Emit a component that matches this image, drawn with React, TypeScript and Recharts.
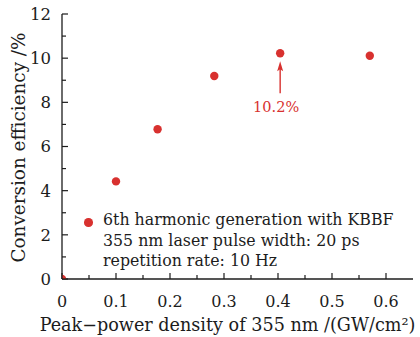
import { ScatterChart, Scatter, XAxis, YAxis, Legend, Label } from "recharts";

// measured points (peak-power density GW/cm^2 -> conversion efficiency %)
const powerDensity = [0, 0.1, 0.177, 0.282, 0.404, 0.57];
const efficiency = [0, 4.42, 6.78, 9.19, 10.22, 10.11];

// highlighted maximum
const peakX = [0.404];
const peakY = [10.22];
const peakLabel = "10.2%";

const xTicks = [0, 0.05, 0.1, 0.15, 0.2, 0.25, 0.3, 0.35, 0.4, 0.45, 0.5, 0.55, 0.6];
const yTicks = [0, 1, 2, 3, 4, 5, 6, 7, 8, 9, 10, 11, 12];

const legendLines = [
  "6th harmonic generation with KBBF",
  "355 nm laser pulse width: 20 ps",
  "repetition rate: 10 Hz",
];

const RED = "#d8312f";
const INK = "#1c1c1c";
const FONT = '"DejaVu Serif", "Liberation Serif", serif';

const points = powerDensity.map((x, i) => ({ x, y: efficiency[i] }));
const peak = peakX.map((x, i) => ({ x, y: peakY[i] }));

const isMajorX = (v: number) => Math.abs(v * 10 - Math.round(v * 10)) < 1e-6;
const isMajorY = (v: number) => v % 2 === 0;
const fmtX = (v: number) => String(Math.round(v * 10) / 10);

function BottomTick({ x, y, payload }: any) {
  const major = isMajorX(payload.value);
  return (
    <g>
      <line x1={x} y1={y} x2={x} y2={y - (major ? 6 : 4)} stroke={INK} strokeWidth={1.2} />
      {major && (
        <text x={x} y={y + 28} textAnchor="middle" fontSize={16} fill={INK}>
          {fmtX(payload.value)}
        </text>
      )}
    </g>
  );
}

function TopTick({ x, y, payload }: any) {
  const major = isMajorX(payload.value);
  return <line x1={x} y1={y} x2={x} y2={y + (major ? 6 : 4)} stroke={INK} strokeWidth={1.2} />;
}

function LeftTick({ x, y, payload }: any) {
  const major = isMajorY(payload.value);
  return (
    <g>
      <line x1={x} y1={y} x2={x + (major ? 6 : 4)} y2={y} stroke={INK} strokeWidth={1.2} />
      {major && (
        <text x={x - 11} y={y} dy="0.36em" textAnchor="end" fontSize={16.5} fill={INK}>
          {payload.value}
        </text>
      )}
    </g>
  );
}

function RightTick({ x, y, payload }: any) {
  const major = isMajorY(payload.value);
  return <line x1={x} y1={y} x2={x - (major ? 6 : 4)} y2={y} stroke={INK} strokeWidth={1.2} />;
}

function ArrowNote({ cx, cy }: any) {
  const tip = cy + 8;
  return (
    <g>
      <line x1={cx} y1={cy + 40} x2={cx} y2={tip + 6} stroke={RED} strokeWidth={1.4} />
      <path d={`M${cx},${tip} L${cx - 3},${tip + 10} L${cx},${tip + 8} L${cx + 3},${tip + 10} Z`} fill={RED} />
      <text x={cx - 4} y={cy + 59} textAnchor="middle" fontSize={14.5} fill={RED}>
        {peakLabel}
      </text>
    </g>
  );
}

function LegendBox() {
  return (
    <div style={{ position: "relative", fontFamily: FONT, fontSize: 15.8, lineHeight: "20.5px", color: INK }}>
      <span
        style={{
          position: "absolute",
          left: 4,
          top: 8,
          width: 8.5,
          height: 8.5,
          borderRadius: "50%",
          background: RED,
        }}
      />
      <div style={{ paddingLeft: 23, whiteSpace: "nowrap" }}>
        {legendLines.map((l) => (
          <div key={l}>{l}</div>
        ))}
      </div>
    </div>
  );
}

export default function App() {
  return (
    <div style={{ position: "absolute", left: 0, top: 0, width: 420, height: 337, background: "#fff", fontFamily: FONT }}>
      <ScatterChart width={420} height={337} margin={{ top: 14, right: 7, bottom: 0, left: 0 }}>
        <XAxis
          type="number"
          dataKey="x"
          domain={[0, 0.65]}
          ticks={xTicks}
          interval={0}
          allowDataOverflow
          height={58}
          tickSize={0}
          tickMargin={0}
          tickLine={false}
          axisLine={{ stroke: INK, strokeWidth: 1.3 }}
          tick={BottomTick}
        >
          <Label
            value="Peak−power density of 355 nm /(GW/cm²)"
            position="insideBottom"
            offset={6}
            dx={-10}
            fontSize={17.6}
            fill={INK}
          />
        </XAxis>
        <XAxis
          xAxisId="top"
          orientation="top"
          type="number"
          domain={[0, 0.65]}
          ticks={xTicks}
          interval={0}
          height={0}
          tickSize={0}
          tickMargin={0}
          tickLine={false}
          axisLine={{ stroke: INK, strokeWidth: 1.3 }}
          tick={TopTick}
        />
        <YAxis
          type="number"
          dataKey="y"
          domain={[0, 12]}
          ticks={yTicks}
          interval={0}
          allowDataOverflow
          width={62}
          tickSize={0}
          tickMargin={0}
          tickLine={false}
          axisLine={{ stroke: INK, strokeWidth: 1.3 }}
          tick={LeftTick}
        >
          <Label
            value="Conversion efficiency /%"
            angle={-90}
            position="center"
            dx={-13}
            dy={1}
            fontSize={18.4}
            fill={INK}
          />
        </YAxis>
        <YAxis
          yAxisId="right"
          orientation="right"
          type="number"
          domain={[0, 12]}
          ticks={yTicks}
          interval={0}
          width={0}
          tickSize={0}
          tickMargin={0}
          tickLine={false}
          axisLine={{ stroke: INK, strokeWidth: 1.3 }}
          tick={RightTick}
        />
        <Legend
          layout="horizontal"
          verticalAlign="middle"
          align="center"
          wrapperStyle={{ left: 80, top: 210, width: 330 }}
          content={() => <LegendBox />}
        />
        <Scatter data={points} fill={RED} isAnimationActive={false} shape={(p: any) => <circle cx={p.cx} cy={p.cy} r={4.2} fill={RED} />} />
        <Scatter data={peak} isAnimationActive={false} legendType="none" shape={ArrowNote} />
      </ScatterChart>
    </div>
  );
}
